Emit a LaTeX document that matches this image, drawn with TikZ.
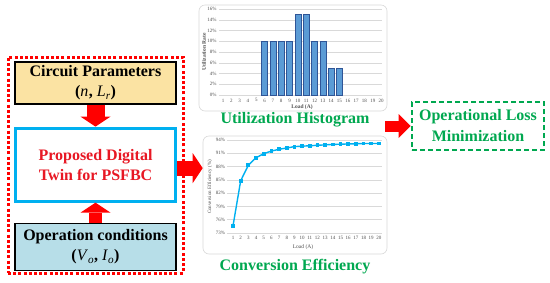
\documentclass[tikz,border=0pt]{standalone}
\usepackage{fontspec}
\setmainfont{Liberation Serif}
\usepackage{tikz}
\usetikzlibrary{positioning, arrows.meta}

\definecolor{rosso}{RGB}{255,0,0}
\definecolor{testorosso}{RGB}{232,24,36}
\definecolor{verde}{RGB}{0,168,80}
\definecolor{azzurro}{RGB}{0,176,240}
\definecolor{crema}{RGB}{251,227,163}
\definecolor{celeste}{RGB}{183,222,232}
\definecolor{barra}{RGB}{91,155,213}
\definecolor{bordobarra}{RGB}{47,85,151}
\definecolor{griglia}{RGB}{217,217,217}
\definecolor{etichetta}{RGB}{80,80,80}

\newcommand{\grandezza}[2]{\textit{\mdseries #1}\textsubscript{\textit{\mdseries #2}}}
\newcommand{\datieff}{2/84.8,3/88.3,4/90.0,5/90.9,6/91.5,7/91.9,8/92.2,9/92.5,10/92.6,
    11/92.7,12/92.8,13/92.9,14/93.0,15/93.05,16/93.1,17/93.15,18/93.2,19/93.2,20/93.2}

\tikzset{
    blocco/.style={draw, line width=1.3pt, minimum width=161pt, align=center,
        inner sep=0pt, font=\fontsize{16}{20}\selectfont\bfseries},
    gruppo/.style={draw=rosso, line width=3pt, dash pattern=on 3pt off 2.2pt},
    obiettivo/.style={draw=verde, line width=2.8pt, dash pattern=on 5pt off 3pt,
        text=verde, align=center, minimum width=132pt, minimum height=48pt,
        font=\fontsize{16}{21}\selectfont\bfseries},
    didascalia/.style={text=verde, font=\fontsize{16}{20}\selectfont\bfseries},
    cornice/.style={draw=griglia, line width=0.6pt, rounded corners=6pt},
    tacca/.style={text=etichetta, inner sep=0.5pt, font=\fontsize{5}{6}\selectfont},
    freccia/.style={draw=rosso, line width=#1,
        -{Triangle[width=30pt, length=10pt, line width=0pt]}},
    freccia/.default=15pt,
    frecciapiccola/.style={draw=rosso, line width=11pt,
        -{Triangle[width=24pt, length=12pt, line width=0pt]}},
}

\begin{document}
\begin{tikzpicture}[x=1pt, y=-1pt]
    \fill[white] (0,0) rectangle (550,282);
    \useasboundingbox (0,0) rectangle (550,282);

    % blocchi a sinistra
    \node[gruppo, minimum width=175pt, minimum height=216pt] (grp) at (95.5,165) {};
    \node[blocco, fill=crema, minimum height=42pt] (cp) at (95.5,83)
        {Circuit Parameters\\(\grandezza{n}{}, \grandezza{L}{r})};
    \node[blocco, draw=azzurro, line width=3pt, text=testorosso, minimum width=160pt,
        minimum height=73pt, below=22pt of cp] (dt) {Proposed Digital\\Twin for PSFBC};
    \node[blocco, fill=celeste, minimum height=47pt, below=20pt of dt] (oc)
        {Operation conditions\\(\grandezza{V}{o}, \grandezza{I}{o})};

    \draw[freccia=18pt] (cp) -- (dt);
    \draw[freccia=13pt] (oc) -- (dt);

    % istogramma
    \node[cornice, minimum width=188pt, minimum height=106pt] (isto) at (293,58) {};
    \begin{scope}[shift={(214.68,95)}, x=8.32pt, y=5.375pt]
        \foreach \p in {0,2,...,16} {
            \draw[griglia, line width=0.5pt] (0.52,\p) -- (20.1,\p);
            \node[tacca, anchor=east] at (0.3,\p) {\p\%};
        }
        \foreach \i/\v in {6/10,7/10,8/10,9/10,10/15,11/15,12/10,13/10,14/5,15/5}
            \draw[fill=barra, draw=bordobarra, line width=0.5pt]
                (\i-0.36,0) rectangle (\i+0.36,\v);
        \foreach \i in {1,...,20}
            \node[tacca] at (\i,-1) {\i};
    \end{scope}
    \node[tacca, font=\fontsize{5.5}{6}\selectfont\bfseries, rotate=90] at (204,52) {Utilization Rate};
    \node[tacca, font=\fontsize{5.5}{6}\selectfont\bfseries] at (302,107.5) {Load (A)};
    \node[didascalia] (capisto) at (295,120) {Utilization Histogram};

    % efficienza
    \node[cornice, minimum width=184pt, minimum height=118pt] (eff) at (295,195) {};
    \begin{scope}[shift={(225.32,556.39)}, x=7.68pt, y=4.43pt]
        \foreach \p in {73,76,...,94} {
            \draw[griglia, line width=0.5pt] (0.2,\p) -- (20.4,\p);
            \node[tacca, anchor=east] at (0.05,\p) {\p\%};
        }
        \draw[azzurro, line width=1.4pt, line join=round] (1,74.6)
            foreach \i/\v in \datieff { -- (\i,\v) };
        \fill[azzurro] (1,74.6) ++(-1.9pt,-1.9pt) rectangle ++(3.8pt,3.8pt);
        \foreach \i/\v in \datieff
            \fill[azzurro] (\i,\v) ++(-1.9pt,-1.9pt) rectangle ++(3.8pt,3.8pt);
        \foreach \i in {1,...,20}
            \node[tacca] at (\i,71.8) {\i};
    \end{scope}
    \node[tacca, font=\fontsize{5}{6}\selectfont, rotate=90] at (210,187) {Conversion Efficiency (\%)};
    \node[tacca, font=\fontsize{5.5}{6}\selectfont] at (303,247) {Load (A)};
    \node[didascalia] (capeff) at (295,267) {Conversion Efficiency};

    \draw[freccia=15pt] ([yshift=-3.5pt]dt.east) -- ([yshift=-3.5pt]dt.east -| eff.west);

    % obiettivo finale
    \node[obiettivo] (olm) at (478,126) {Operational Loss\\Minimization};
    \coordinate (uscita) at (385,126);
    \draw[frecciapiccola] (uscita) -- (olm.west);
\end{tikzpicture}
\end{document}
